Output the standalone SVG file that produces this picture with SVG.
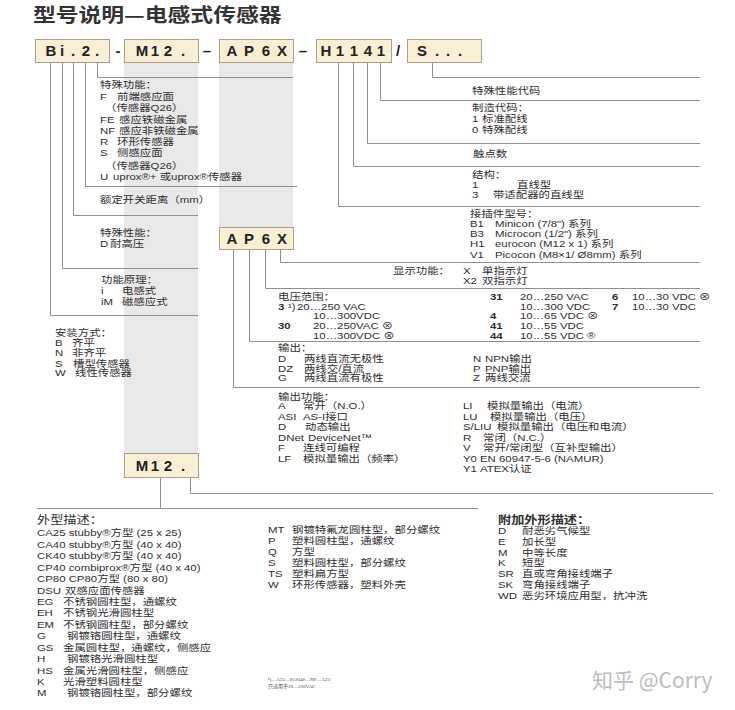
<svg xmlns="http://www.w3.org/2000/svg" width="735" height="710" viewBox="0 0 735 710">
<style>
.t{font-family:"Liberation Sans","Noto Sans CJK SC","DejaVu Sans",sans-serif;font-size:9.5px;fill:#2e2e2e}
.b{font-weight:bold}
.h{font-size:11px}
.box{fill:#f8efd4;stroke:#a8a08c;stroke-width:1}
.band{fill:#e9e9e9}
.c{fill:none;stroke:#8f8f8f;stroke-width:1}
.k{font-family:"Liberation Sans","DejaVu Sans",sans-serif;font-weight:bold;font-size:15px;fill:#222;text-anchor:middle}
.title{font-family:"Noto Sans CJK SC",sans-serif;font-weight:bold;font-size:19px;fill:#333}
.fn{font-family:"Liberation Serif","Noto Sans CJK SC",serif;font-size:5px;fill:#444}
.wm{font-family:"Noto Sans CJK SC","Liberation Sans",sans-serif;font-size:21px;fill:#bdbdbd}
</style>
<rect width="735" height="710" fill="#ffffff"/>
<text class="title" transform="scale(1.2,1)" x="27.5" y="21.5">型号说明—电感式传感器</text>

<g id="bands">
<rect class="band" x="124" y="62" width="74" height="391"/>
<rect class="band" x="219" y="62" width="74" height="165"/>
</g>

<g id="connectors">
<path class="c" d="M97.5,62 V77.5 H293"/>
<path class="c" d="M85.5,62 V186.5 H297"/>
<path class="c" d="M73.5,62 V215.5 H198"/>
<path class="c" d="M62.5,62 V268.5 H198"/>
<path class="c" d="M50.5,62 V315.5 H198"/>
<path class="c" d="M380.5,62 V100.5 H700"/>
<path class="c" d="M367.5,62 V143.5 H700"/>
<path class="c" d="M353.5,62 V166.5 H700"/>
<path class="c" d="M338.5,62 V206.5 H700"/>
<path class="c" d="M432.5,62 V77.5 H700"/>
<path class="c" d="M280.5,249 V262.5 H700"/>
<path class="c" d="M265.5,249 V288.5 H700"/>
<path class="c" d="M249.5,249 V341.5 H700"/>
<path class="c" d="M233.5,249 V387.5 H700"/>
<path class="c" d="M190.5,477 V493.5 H713"/>
<path class="c" d="M160.5,477 V508.5"/>
<path class="c" d="M37,508.5 H478"/>
</g>

<g id="node-bi2">
<rect class="box" x="35.5" y="39.5" width="74" height="23"/>
<text class="k" x="51 62 73 86 97" y="56">Bi.2.</text>
</g>
<text class="k" x="118" y="56">-</text>
<g id="node-m12">
<rect class="box" x="124.5" y="39.5" width="74" height="23"/>
<text class="k" x="142 155 168 183" y="56">M12.</text>
</g>
<text class="k" x="207" y="56">–</text>
<g id="node-ap6x">
<rect class="box" x="219.5" y="39.5" width="74" height="23"/>
<text class="k" x="232 249 266 282" y="56">AP6X</text>
</g>
<text class="k" x="303" y="56">–</text>
<g id="node-h1141">
<rect class="box" x="316.5" y="39.5" width="75" height="23"/>
<text class="k" x="326 340 354 368 381" y="56">H1141</text>
</g>
<text class="k" x="398" y="56">/</text>
<g id="node-s">
<rect class="box" x="407.5" y="39.5" width="74" height="23"/>
<text class="k" x="422 437 448 460" y="56">S...</text>
</g>
<g id="node-ap6x-2">
<rect class="box" x="219.5" y="227.5" width="74" height="22"/>
<text class="k" x="232 249 266 282" y="243.5">AP6X</text>
</g>
<g id="node-m12-2">
<rect class="box" x="124.5" y="453.5" width="74" height="24"/>
<text class="k" x="142 155 168 183" y="470.5">M12.</text>
</g>

<g id="labels-left" class="t" transform="scale(1.2,1)">
<text x="83.33" y="88.5">特殊功能：</text>
<text x="83.33" y="100.5">F</text><text x="97.5" y="100.5">前端感应面</text>
<text x="87.5" y="111.5">（传感器Q26）</text>
<text x="83.33" y="123.5">FE</text><text x="99.17" y="123.5">感应铁磁金属</text>
<text x="83.33" y="134.5">NF</text><text x="99.17" y="134.5">感应非铁磁金属</text>
<text x="83.33" y="145.5">R</text><text x="97.5" y="145.5">环形传感器</text>
<text x="83.33" y="156.5">S</text><text x="97.5" y="156.5">侧感应面</text>
<text x="87.5" y="169.5">（传感器Q26）</text>
<text x="83.33" y="180.5">U</text><text x="94.17" y="180.5">uprox®+ 或uprox®传感器</text>
<text x="83.33" y="203.5">额定开关距离（mm）</text>
<text x="83.33" y="236.5">特殊性能：</text>
<text x="83.33" y="247.5">D</text><text x="91.67" y="247.5">耐高压</text>
<text x="84.17" y="283.5">功能原理：</text>
<text x="84.17" y="294.5">i</text><text x="101.67" y="294.5">电感式</text>
<text x="84.17" y="305.5">iM</text><text x="101.67" y="305.5">磁感应式</text>
<text x="45.83" y="336.5">安装方式：</text>
<text x="45.83" y="346.5">B</text><text x="60" y="346.5">齐平</text>
<text x="45.83" y="356.5">N</text><text x="60" y="356.5">非齐平</text>
<text x="45.83" y="366.5">S</text><text x="60.83" y="366.5">槽型传感器</text>
<text x="45.83" y="376.5">W</text><text x="62.5" y="376.5">线性传感器</text>
</g>

<g id="labels-right" class="t" transform="scale(1.2,1)">
<text x="393.33" y="94.5">特殊性能代码</text>
<text x="393.33" y="111.5">制造代码：</text>
<text x="393.33" y="122.5">1</text><text x="401.67" y="122.5">标准配线</text>
<text x="393.33" y="133.5">0</text><text x="401.67" y="133.5">特殊配线</text>
<text x="394.17" y="157.5">触点数</text>
<text x="393.33" y="178.5">结构：</text>
<text x="393.33" y="188.5">1</text><text x="430.83" y="188.5">直线型</text>
<text x="393.33" y="198.5">3</text><text x="410.83" y="198.5">带适配器的直线型</text>
<text x="391.67" y="217.5">接插件型号：</text>
<text x="391.67" y="227.5">B1</text><text x="412.5" y="227.5">Minicon (7/8") 系列</text>
<text x="391.67" y="237.5">B3</text><text x="412.5" y="237.5">Microcon (1/2") 系列</text>
<text x="391.67" y="247.5">H1</text><text x="412.5" y="247.5">eurocon  (M12 x 1) 系列</text>
<text x="391.67" y="258">V1</text><text x="412.5" y="258">Picocon  (M8×1/ Ø8mm) 系列</text>
<text x="327.5" y="274.5">显示功能：</text>
<text x="385.83" y="274.5">X</text><text x="401.67" y="274.5">单指示灯</text>
<text x="385.83" y="284.5">X2</text><text x="401.67" y="284.5">双指示灯</text>
</g>

<g id="labels-voltage" class="t" transform="scale(1.2,1)">
<text x="231.67" y="300">电压范围：</text>
<text class="b" x="231.67" y="310">3</text><text x="240" y="310">¹)</text><text x="247.5" y="310">20…250 VAC</text>
<text x="260.83" y="319.5">10…300VDC</text>
<text class="b" x="231.67" y="329.5">30</text><text x="260.83" y="329.5">20…250VAC ⊗</text>
<text x="260.83" y="339">10…300VDC ⊗</text>
<text class="b" x="408.33" y="300">31</text><text x="433.33" y="300">20…250 VAC</text>
<text x="433.33" y="310">10…300 VDC</text>
<text class="b" x="408.33" y="319.5">4</text><text x="433.33" y="319.5">10…65 VDC ⊗</text>
<text class="b" x="408.33" y="329.5">41</text><text x="433.33" y="329.5">10…55 VDC</text>
<text class="b" x="408.33" y="339">44</text><text x="433.33" y="339">10…55 VDC ®</text>
<text class="b" x="510" y="300">6</text><text x="526.67" y="300">10…30 VDC ⊗</text>
<text class="b" x="510" y="310">7</text><text x="526.67" y="310">10…30 VDC</text>
</g>

<g id="labels-output" class="t" transform="scale(1.2,1)">
<text x="231.67" y="351.5">输出：</text>
<text x="231.67" y="362">D</text><text x="253.33" y="362">两线直流无极性</text>
<text x="231.67" y="372">DZ</text><text x="253.33" y="372">两线交/直流</text>
<text x="231.67" y="381.5">G</text><text x="253.33" y="381.5">两线直流有极性</text>
<text x="394.17" y="362">N</text><text x="404.17" y="362">NPN输出</text>
<text x="394.17" y="372">P</text><text x="404.17" y="372">PNP输出</text>
<text x="394.17" y="381.5">Z</text><text x="404.17" y="381.5">两线交流</text>
</g>

<g id="labels-function" class="t" transform="scale(1.2,1)">
<text x="231.67" y="400">输出功能：</text>
<text x="231.67" y="409.5">A</text><text x="252.5" y="409.5">常开（N.O.）</text>
<text x="231.67" y="420">ASI</text><text x="252.5" y="420">AS-I接口</text>
<text x="231.67" y="430.5">D</text><text x="254.17" y="430.5">动态输出</text>
<text x="231.67" y="441">DNet</text><text x="256.67" y="441">DeviceNet™</text>
<text x="231.67" y="451.5">F</text><text x="252.5" y="451.5">连线可编程</text>
<text x="231.67" y="462">LF</text><text x="252.5" y="462">模拟量输出（频率）</text>
<text x="385.83" y="409.5">LI</text><text x="405.83" y="409.5">模拟量输出（电流）</text>
<text x="385.83" y="420">LU</text><text x="408.33" y="420">模拟量输出（电压）</text>
<text x="385.83" y="430.5">S/LIU</text><text x="414.17" y="430.5">模拟量输出（电压和电流）</text>
<text x="385.83" y="441">R</text><text x="402.5" y="441">常闭（N.C.）</text>
<text x="385.83" y="451.5">V</text><text x="402.5" y="451.5">常开/常闭型（互补型输出）</text>
<text x="385.83" y="462">Y0</text><text x="400" y="462">EN 60947-5-6 (NAMUR)</text>
<text x="385.83" y="472.5">Y1</text><text x="400" y="472.5">ATEX认证</text>
</g>

<g id="labels-housing" class="t" transform="scale(1.2,1)">
<text class="h" x="30.83" y="524">外型描述：</text>
<text x="30.83" y="536.5">CA25 stubby®方型 (25 x 25)</text>
<text x="30.83" y="547.9">CA40 stubby®方型 (40 x 40)</text>
<text x="30.83" y="559.4">CK40 stubby®方型 (40 x 40)</text>
<text x="30.83" y="570.8">CP40 combiprox®方型 (40 x 40)</text>
<text x="30.83" y="582.2">CP80 CP80方型 (80 x 80)</text>
<text x="30.83" y="593.6">DSU</text><text x="54.17" y="593.6">双感应面传感器</text>
<text x="30.83" y="605.1">EG</text><text x="52.5" y="605.1">不锈钢圆柱型，通螺纹</text>
<text x="30.83" y="616.5">EH</text><text x="52.5" y="616.5">不锈钢光滑圆柱型</text>
<text x="30.83" y="627.9">EM</text><text x="52.5" y="627.9">不锈钢圆柱型，部分螺纹</text>
<text x="30.83" y="639.4">G</text><text x="55.83" y="639.4">钢镀铬圆柱型，通螺纹</text>
<text x="30.83" y="650.8">GS</text><text x="52.5" y="650.8">金属圆柱型，通螺纹，侧感应</text>
<text x="30.83" y="662.2">H</text><text x="55.83" y="662.2">钢镀铬光滑圆柱型</text>
<text x="30.83" y="673.6">HS</text><text x="52.5" y="673.6">金属光滑圆柱型，侧感应</text>
<text x="30.83" y="685.1">K</text><text x="52.5" y="685.1">光滑塑料圆柱型</text>
<text x="30.83" y="696.5">M</text><text x="55.83" y="696.5">钢镀铬圆柱型，部分螺纹</text>
<text x="223.33" y="533.5">MT</text><text x="243.33" y="533.5">钢镀特氟龙圆柱型，部分螺纹</text>
<text x="223.33" y="544.5">P</text><text x="243.33" y="544.5">塑料圆柱型，通螺纹</text>
<text x="223.33" y="555.5">Q</text><text x="243.33" y="555.5">方型</text>
<text x="223.33" y="566.5">S</text><text x="243.33" y="566.5">塑料圆柱型，部分螺纹</text>
<text x="223.33" y="577.5">TS</text><text x="243.33" y="577.5">塑料扁方型</text>
<text x="223.33" y="588.5">W</text><text x="243.33" y="588.5">环形传感器，塑料外壳</text>
<text class="b h" x="415" y="524">附加外形描述：</text>
<text x="415" y="534">D</text><text x="435" y="534">耐恶劣气候型</text>
<text x="415" y="545">E</text><text x="435" y="545">加长型</text>
<text x="415" y="556">M</text><text x="435" y="556">中等长度</text>
<text x="415" y="566.5">K</text><text x="435" y="566.5">短型</text>
<text x="415" y="577.5">SR</text><text x="435" y="577.5">直或弯角接线端子</text>
<text x="415" y="588.5">SK</text><text x="435" y="588.5">弯角接线端子</text>
<text x="415" y="599.5">WD</text><text x="435" y="599.5">恶劣环境应用型，抗冲洗</text>
</g>

<g id="footnote">
<text class="fn" x="268" y="681">¹)…A23…S1204#…NF…A23</text>
<text class="fn" x="268" y="688">只适用于20…250VAC</text>
</g>
<text class="wm" x="592" y="688">知乎 @Corry</text>
</svg>
